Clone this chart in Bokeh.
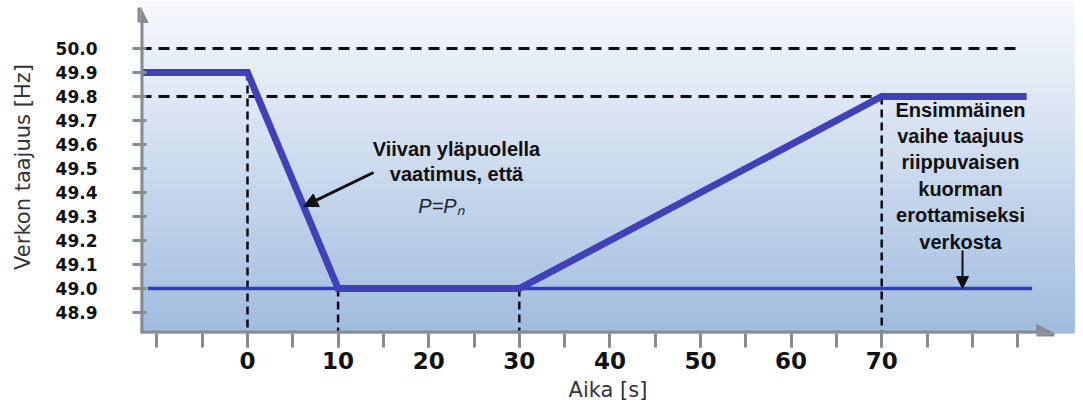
import numpy as np
from bokeh.plotting import figure
from bokeh.models import FixedTicker, Arrow, NormalHead, Label, Range1d, PrintfTickFormatter
from bokeh.embed import file_html
from bokeh.resources import INLINE

# ---------------- data ----------------
time_s = [-11.6, 0, 10, 30, 70, 86]          # thick frequency curve
freq_hz = [49.9, 49.9, 49.0, 49.0, 49.8, 49.8]
limit_t = [-11.0, 86.6]                        # thin 49.0 Hz limit line
limit_hz = [49.0, 49.0]
ref_levels = [50.0, 49.8]                      # dashed horizontal reference levels
ref_ends = [85.5, 70]
event_t = [0, 10, 30, 70]                      # dashed vertical markers
event_f = [49.9, 49.0, 49.0, 49.8]
x_ticks = [0, 10, 20, 30, 40, 50, 60, 70]
x_minor = [-10, -5, 0, 5, 10, 15, 20, 25, 30, 35, 40, 45, 50, 55, 60, 65, 70, 75, 80, 85]
y_ticks = [48.9, 49.0, 49.1, 49.2, 49.3, 49.4, 49.5, 49.6, 49.7, 49.8, 49.9, 50.0]

# ---------------- layout helpers (canvas px <-> data) ----------------
PX0, PXS = 247.0, 9.06     # canvas x of t=0, px per second
PY0, PYS = 48.0, 240.0     # canvas y of 50.0 Hz, px per Hz
def tx(px):
    return (px - PX0) / PXS
def fy(py):
    return 50.0 - (py - PY0) / PYS

W, H = 1075, 406
FL, FT, FB = 140, 0, 333
X0, X1 = tx(FL), tx(W)
Y0, Y1 = fy(FB), fy(FT)

p = figure(width=W, height=H, x_range=Range1d(X0, X1), y_range=Range1d(Y0, Y1),
           output_backend="svg", toolbar_location=None,
           min_border_left=FL, min_border_right=0, min_border_top=FT, min_border_bottom=H - FB)
p.outline_line_color = None
p.grid.visible = False
p.background_fill_color = "white"
p.border_fill_color = "white"

# gradient background
n = 90
edges = np.linspace(Y0, Y1, n + 1)
top = np.array([0xf7, 0xf9, 0xfd], dtype=float)
bot = np.array([0xa0, 0xbc, 0xdf], dtype=float)
cols = []
for i in range(n):
    frac = i / (n - 1)
    c = bot + (top - bot) * frac
    cols.append('#%02x%02x%02x' % tuple(int(round(v)) for v in c))
p.quad(left=X0, right=X1, bottom=edges[:-1], top=edges[1:], fill_color=cols, line_color=cols, line_width=1)

# dashed reference lines
p.segment(x0=X0, y0=ref_levels, x1=ref_ends, y1=ref_levels, line_color="#0b0b12",
          line_width=3, line_dash="11 7")
p.segment(x0=event_t, y0=event_f, x1=event_t, y1=Y0, line_color="#0b0b12",
          line_width=2.5, line_dash="8 5")

# limit line and frequency curve
p.line(limit_t, limit_hz, line_color="#3040b4", line_width=3.5)
p.line(time_s, freq_hz, line_color="#4040b8", line_width=7, line_join="miter")

# axes drawn as arrows
axis_col = "#868c94"
p.add_layout(Arrow(x_start=X0, y_start=Y0, x_end=X0, y_end=fy(7), line_color=axis_col, line_width=6,
                   end=NormalHead(size=15, fill_color=axis_col, line_color=axis_col)))
p.add_layout(Arrow(x_start=X0, y_start=Y0, x_end=tx(1054), y_end=Y0, line_color=axis_col, line_width=6,
                   end=NormalHead(size=18, fill_color=axis_col, line_color=axis_col)))

# x axis
xa = p.xaxis[0]
xa.ticker = FixedTicker(ticks=x_ticks, minor_ticks=x_minor)
xa.axis_line_color = None
xa.major_tick_line_color = axis_col
xa.major_tick_line_width = 3
xa.major_tick_out = 14
xa.major_tick_in = 0
xa.minor_tick_line_color = axis_col
xa.minor_tick_line_width = 3
xa.minor_tick_out = 14
xa.minor_tick_in = 0
xa.major_label_standoff = 4
xa.major_label_text_font = "DejaVu Sans"
xa.major_label_text_font_style = "bold"
xa.major_label_text_font_size = "23px"
xa.major_label_text_color = "#111111"
xa.axis_label = "Aika [s]"
xa.axis_label_text_font = "DejaVu Sans"
xa.axis_label_text_font_style = "normal"
xa.axis_label_text_font_size = "21px"
xa.axis_label_text_color = "#333333"
xa.axis_label_standoff = 6

# y axis
ya = p.yaxis[0]
ya.ticker = FixedTicker(ticks=y_ticks)
ya.formatter = PrintfTickFormatter(format="%.1f")
ya.axis_line_color = None
ya.major_tick_line_color = axis_col
ya.major_tick_line_width = 3
ya.major_tick_out = 8
ya.major_tick_in = 6
ya.minor_tick_line_color = None
ya.major_label_standoff = 35
ya.major_label_text_font = "DejaVu Sans"
ya.major_label_text_font_style = "bold"
ya.major_label_text_font_size = "17px"
ya.major_label_text_color = "#111111"
ya.axis_label = "Verkon taajuus [Hz]"
ya.axis_label_text_font = "DejaVu Sans"
ya.axis_label_text_font_style = "normal"
ya.axis_label_text_font_size = "21px"
ya.axis_label_text_color = "#333333"
ya.axis_label_standoff = 18

# annotations
p.add_layout(Label(x=tx(456), y=fy(161), text="Viivan yläpuolella\nvaatimus, että",
                   text_align="center", text_baseline="middle", text_font="Liberation Sans",
                   text_font_style="bold", text_font_size="20px", text_line_height=1.17,
                   text_color="#111111"))
p.add_layout(Label(x=tx(441), y=fy(205), text="P=Pₙ", text_align="center", text_baseline="middle",
                   text_font="Liberation Sans", text_font_style="italic", text_font_size="20px",
                   text_color="#222222"))
tip_t = 6.2
tip_f = float(np.interp(tip_t, time_s, freq_hz))
p.add_layout(Arrow(x_start=tx(373), y_start=fy(172), x_end=tip_t, y_end=tip_f,
                   line_color="#111111", line_width=3,
                   end=NormalHead(size=14, fill_color="#111111", line_color="#111111")))

p.add_layout(Label(x=tx(960), y=fy(175), text="Ensimmäinen\nvaihe taajuus\nriippuvaisen\nkuorman\nerottamiseksi\nverkosta",
                   text_align="center", text_baseline="middle", text_font="Liberation Sans",
                   text_font_style="bold", text_font_size="20px", text_line_height=1.2,
                   text_color="#111111"))
p.add_layout(Arrow(x_start=tx(962), y_start=fy(250), x_end=tx(962), y_end=limit_hz[0],
                   line_color="#111111", line_width=2,
                   end=NormalHead(size=12, fill_color="#111111", line_color="#111111")))

open("out.html", "w").write(file_html(p, INLINE))
